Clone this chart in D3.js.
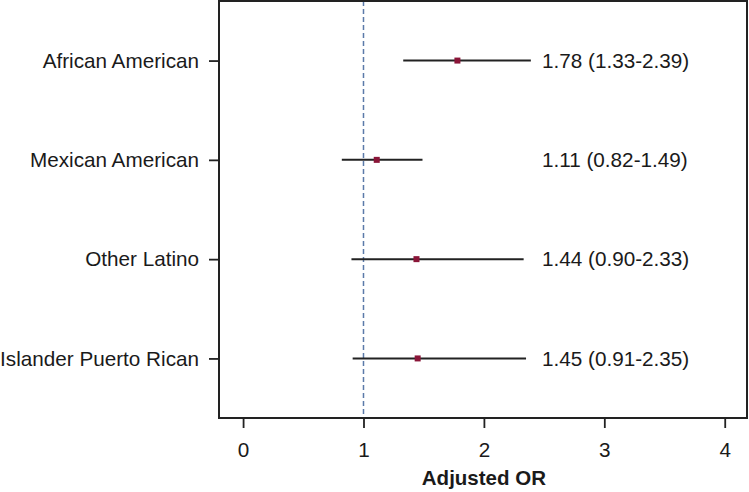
<!DOCTYPE html>
<html>
<head>
<meta charset="utf-8">
<script src="https://cdn.jsdelivr.net/npm/d3@7"></script>
<style>
  html, body { margin: 0; padding: 0; background: #fff; }
  svg { display: block; }
  text { font-family: "Liberation Sans", Arial, Helvetica, sans-serif; fill: #1a1a1a; }
</style>
</head>
<body>
<svg id="chart" width="749" height="492"></svg>
<script>
const categories = ["African American", "Mexican American", "Other Latino", "Islander Puerto Rican"];
const orValues   = [1.78, 1.11, 1.44, 1.45];
const lowerCI    = [1.33, 0.82, 0.90, 0.91];
const upperCI    = [2.39, 1.49, 2.33, 2.35];
const xTicks     = [0, 1, 2, 3, 4];
const xTitle     = "Adjusted OR";
const refValue   = 1;

(function () {
const rows = categories.map((c, i) => ({
  cat: c, or: orValues[i], lo: lowerCI[i], hi: upperCI[i],
  label: `${orValues[i].toFixed(2)} (${lowerCI[i].toFixed(2)}-${upperCI[i].toFixed(2)})`
}));

const svg = d3.select("#chart");
const pL = 219, pR = 747, pT = 1, pB = 418;
const fs = "20.7px";

const x = d3.scaleLinear().domain([-0.2, 4.185]).range([pL, pR]);
const y = d3.scalePoint().domain(categories).range([pT, pB]).padding(0.6);

// reference line
svg.append("line")
  .attr("x1", x(refValue)).attr("x2", x(refValue))
  .attr("y1", pT).attr("y2", pB)
  .attr("stroke", "#5b7aa9").attr("stroke-width", 1.5)
  .attr("stroke-dasharray", "5,3");

// error bars
svg.selectAll("line.ci").data(rows).enter().append("line")
  .attr("class", "ci")
  .attr("x1", d => x(d.lo)).attr("x2", d => x(d.hi))
  .attr("y1", d => y(d.cat)).attr("y2", d => y(d.cat))
  .attr("stroke", "#222").attr("stroke-width", 2);

// points
const s = 6;
svg.selectAll("rect.pt").data(rows).enter().append("rect")
  .attr("class", "pt")
  .attr("x", d => x(d.or) - s / 2).attr("y", d => y(d.cat) - s / 2)
  .attr("width", s).attr("height", s)
  .attr("fill", "#8a1538");

// value labels
svg.selectAll("text.val").data(rows).enter().append("text")
  .attr("class", "val")
  .attr("x", 542).attr("y", d => y(d.cat))
  .attr("dy", "0.35em")
  .style("font-size", fs)
  .text(d => d.label);

// frame
svg.append("rect")
  .attr("x", pL).attr("y", pT)
  .attr("width", pR - pL).attr("height", pB - pT)
  .attr("fill", "none").attr("stroke", "#222").attr("stroke-width", 2);

// x axis
const xAxis = svg.append("g")
  .attr("transform", `translate(0,${pB})`)
  .call(d3.axisBottom(x).tickValues(xTicks).tickFormat(d3.format("d")).tickSize(10).tickPadding(14));
xAxis.select(".domain").remove();
xAxis.selectAll(".tick line").attr("stroke", "#222").attr("stroke-width", 1.8);
xAxis.selectAll(".tick text").style("font-size", fs).attr("fill", "#1a1a1a")
  .style("font-family", '"Liberation Sans", Arial, sans-serif');

// y axis
const yAxis = svg.append("g")
  .attr("transform", `translate(${pL},0)`)
  .call(d3.axisLeft(y).tickSize(10).tickPadding(10));
yAxis.select(".domain").remove();
yAxis.selectAll(".tick line").attr("stroke", "#222").attr("stroke-width", 1.8);
yAxis.selectAll(".tick text").style("font-size", fs).attr("fill", "#1a1a1a")
  .style("font-family", '"Liberation Sans", Arial, sans-serif');

// x title
svg.append("text")
  .attr("x", x(2)).attr("y", 485)
  .attr("text-anchor", "middle")
  .style("font-size", "20.5px").style("font-weight", "bold")
  .text(xTitle);
})();
</script>
</body>
</html>
